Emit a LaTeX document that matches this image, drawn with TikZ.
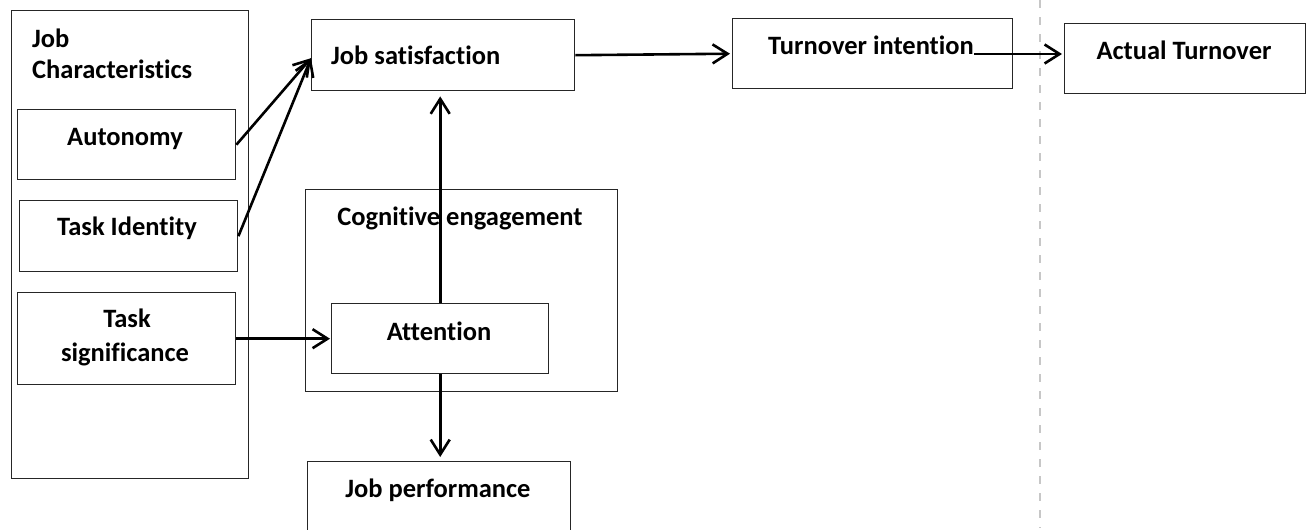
\documentclass[tikz,border=0pt]{standalone}
\usepackage{fontspec}
\setmainfont{Carlito}[Ligatures={NoCommon}]
\usetikzlibrary{arrows.meta,calc}
\tikzset{
  box/.style={draw=black!85, line width=1.4pt, inner sep=0pt, anchor=north west},
  txt/.style={font=\fontsize{26.5}{31}\selectfont\bfseries, inner sep=0pt, anchor=base},
  txtl/.style={txt, anchor=base west},
  conn/.style={line width=2.6pt, -{Straight Barb[length=15pt,width=19pt]}},
  sepline/.style={draw=black!22, line width=1.3pt, dash pattern=on 8pt off 9pt}
}
\begin{document}
\begin{tikzpicture}[x=1pt,y=-1pt]
\path[use as bounding box, clip] (0,0) rectangle (1309,530);
\fill[white] (0,0) rectangle (1309,530);
% separator
\coordinate (septop) at (1040,0);
\coordinate (sepbot) at (1040,528);
\draw[sepline] (septop) -- (sepbot);
% boxes
\node[box, minimum width=237pt, minimum height=468pt] (jc) at (11,10) {};
\node[box, minimum width=218pt, minimum height=70pt] (auto) at (17,109) {};
\node[box, minimum width=218pt, minimum height=71pt] (taskid) at (19,200) {};
\node[box, minimum width=218pt, minimum height=92pt] (tasksig) at (17,292) {};
\node[box, minimum width=263pt, minimum height=71pt] (jobsat) at (311,19) {};
\node[box, minimum width=312pt, minimum height=202pt] (cog) at (305,189) {};
\node[box, minimum width=217pt, minimum height=70pt] (att) at (331,303) {};
\node[box, minimum width=263pt, minimum height=85pt] (perf) at (307,461) {};
\node[box, minimum width=280pt, minimum height=70pt] (turn) at (732,18) {};
\node[box, minimum width=241pt, minimum height=70pt] (actual) at (1064,23) {};
% texts
\node[txtl] (jctext1) at (32,47) {Job};
\node[txtl] (jctext2) at (32,78) {Characteristics};
\node[txt] (autotext) at (125,145) {Autonomy};
\node[txt] (taskidtext) at (127,235) {Task Identity};
\node[txt] (tasksigtext1) at (127,327) {Task};
\node[txt] (tasksigtext2) at (125,361) {significance};
\node[txtl] (jobsattext) at (331,64) {Job satisfaction};
\node[txt] (cogtext) at (460,225) {Cognitive engagement};
\node[txt] (atttext) at (439,340) {Attention};
\node[txt] (perftext) at (438,497) {Job performance};
\node[txtl] (turntext) at (768,54) {Turnover intention};
\node[txt] (actualtext) at (1184,59) {Actual Turnover};
% connectors
\draw[conn] (auto.east) -- ([yshift=-3pt]jobsat.west);
\draw[conn] (taskid.east) -- ([yshift=-3pt]jobsat.west);
\draw[conn, shorten >=1pt] (tasksig.east) -- (att.west);
\draw[conn, shorten >=5pt] (att.north) -- (att.north |- jobsat.south);
\draw[conn, shorten >=4pt] (att.south) -- (att.south |- perf.north);
\draw[conn, shorten >=2pt] (jobsat.east) -- (turn.west);
\draw[conn, shorten >=2pt] (turntext.base east) -- (turntext.base east -| actual.west);
\end{tikzpicture}
\end{document}
